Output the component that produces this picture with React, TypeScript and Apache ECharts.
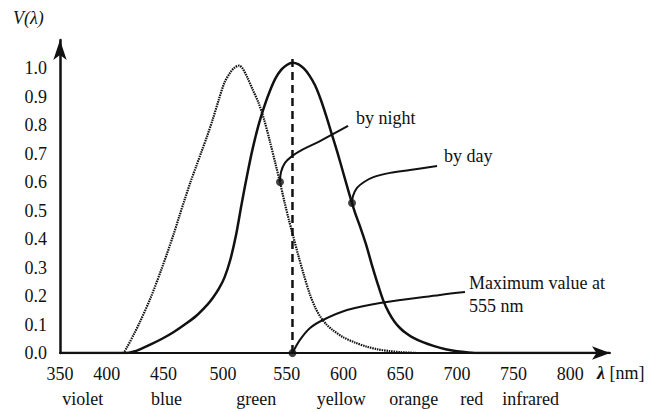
import React, { useEffect, useRef } from "react";
import * as echarts from "echarts";

// Relative luminous efficiency V(λ): [wavelength nm, value]
const nightCurve: [number, number][] = [
  [350, 0], [405, 0], [409, 0.02], [415, 0.065], [420, 0.105], [430, 0.195],
  [440, 0.3], [450, 0.415], [455, 0.478], [460, 0.54], [465, 0.6], [470, 0.655],
  [475, 0.71], [480, 0.765], [485, 0.825], [490, 0.89], [495, 0.95], [500, 0.985],
  [504, 1.003], [508, 1.01], [511, 1.0], [515, 0.97], [520, 0.925], [525, 0.88],
  [530, 0.82], [535, 0.745], [540, 0.665], [544, 0.6], [548, 0.53], [552, 0.465],
  [555, 0.42], [560, 0.345], [565, 0.275], [570, 0.21], [575, 0.16], [580, 0.125],
  [585, 0.1], [590, 0.082], [600, 0.055], [610, 0.037], [620, 0.023], [630, 0.013],
  [640, 0.007], [650, 0.003], [665, 0],
];

const dayCurve: [number, number][] = [
  [350, 0], [408, 0], [415, 0.005], [420, 0.012], [430, 0.03], [440, 0.05],
  [450, 0.073], [460, 0.1], [470, 0.13], [480, 0.17], [485, 0.195], [490, 0.225],
  [495, 0.265], [500, 0.325], [505, 0.41], [510, 0.52], [515, 0.625], [520, 0.72],
  [525, 0.8], [530, 0.865], [535, 0.92], [540, 0.965], [545, 0.995], [550, 1.012],
  [555, 1.02], [560, 1.015], [565, 1.0], [570, 0.975], [575, 0.94], [580, 0.89],
  [585, 0.83], [590, 0.765], [595, 0.7], [600, 0.63], [605, 0.56], [610, 0.495],
  [615, 0.44], [620, 0.38], [625, 0.31], [630, 0.245], [635, 0.185], [640, 0.142],
  [645, 0.11], [650, 0.087], [655, 0.07], [660, 0.057], [670, 0.038], [680, 0.024],
  [690, 0.013], [700, 0.006], [710, 0.002], [720, 0], [835, 0],
];

const peakNm = 555;
const peakLineTop = 1.05;

// Annotation leaders, from the marked point out to the caption
const nightLeader: [number, number][] = [
  [544.0, 0.601], [544.9, 0.636], [548.4, 0.668], [554.6, 0.692], [563.4, 0.714],
  [579.3, 0.745], [604.0, 0.798],
];
const dayLeader: [number, number][] = [
  [607.5, 0.527], [608.4, 0.552], [611.9, 0.58], [618.1, 0.601], [626.9, 0.619],
  [641.0, 0.633], [658.6, 0.643], [682.5, 0.657],
];
const peakLeader: [number, number][] = [
  [555, 0], [561.6, 0.046], [570.5, 0.088], [581.9, 0.116], [603.1, 0.151],
  [632.2, 0.176], [685.1, 0.204], [707.1, 0.214],
];

const nightCaption = "by night";
const dayCaption = "by day";
const peakCaption = "Maximum value at\n555 nm";

const colorNames = ["violet", "blue", "green", "yellow", "orange", "red", "infrared"];
const colorCenters = [370, 444, 523, 598, 662, 713, 765];

const SERIF = "'Liberation Serif', 'DejaVu Serif', serif";
const INK = "#111";

export default function App() {
  const ref = useRef<HTMLDivElement>(null);

  useEffect(() => {
    document.body.style.margin = "0";
    const chart = echarts.init(ref.current!, null, { renderer: "svg" });

    const text = { fontFamily: SERIF, fontSize: 18, color: INK };

    const leader = (data: [number, number][], caption: string, offset: number[]) => ({
      type: "line",
      data,
      smooth: 0.35,
      symbol: "none",
      lineStyle: { color: INK, width: 2 },
      endLabel: {
        show: true,
        formatter: caption,
        distance: 4,
        offset,
        align: "left",
        verticalAlign: "middle",
        lineHeight: 23,
        ...text,
      },
      z: 4,
    });

    chart.setOption({
      animation: false,
      grid: { left: 60, right: 43, top: 40, bottom: 59, outerBoundsMode: "none" },
      xAxis: [
        {
          type: "value",
          min: 350,
          max: 835,
          interval: 50,
          axisLine: {
            show: true,
            onZero: false,
            symbol: ["none", "arrow"],
            symbolSize: [10, 18],
            lineStyle: { color: INK, width: 2 },
          },
          axisTick: { show: false },
          splitLine: { show: false },
          axisLabel: {
            margin: 12,
            ...text,
            formatter: (v: number) => {
              if (v > 800) return "";
              if (v === 400 || v === 450) return `{l|${v}}`;
              if (v === 500) return `{m|${v}}`;
              return `${v}`;
            },
            rich: {
              l: { ...text, padding: [0, 20, 0, 0] },
              m: { ...text, padding: [0, 14, 0, 0] },
            },
          },
        },
        {
          type: "value",
          gridIndex: 0,
          position: "bottom",
          offset: 25,
          min: 350,
          max: 835,
          axisLine: { show: false },
          axisTick: { show: false },
          splitLine: { show: false },
          axisLabel: {
            margin: 12,
            ...text,
            customValues: colorCenters,
            formatter: (v: number) => {
              const i = colorCenters.indexOf(v);
              return i >= 0 ? colorNames[i] : "";
            },
          },
        },
      ],
      yAxis: {
        type: "value",
        min: 0,
        max: 1.1,
        interval: 0.1,
        axisLine: {
          show: true,
          symbol: ["none", "arrow"],
          symbolSize: [10, 20],
          lineStyle: { color: INK, width: 2.5 },
        },
        axisTick: { show: false },
        splitLine: { show: false },
        axisLabel: {
          margin: 13,
          ...text,
          formatter: (v: number) => (v > 1.0001 ? "" : v.toFixed(1)),
        },
      },
      series: [
        {
          type: "line",
          name: "night",
          data: nightCurve,
          smooth: 0.3,
          symbol: "none",
          lineStyle: { color: "#111", width: 2.2, type: [1.5, 0.9] },
          z: 3,
        },
        {
          type: "line",
          name: "day",
          data: dayCurve,
          smooth: 0.3,
          symbol: "none",
          lineStyle: { color: INK, width: 2.5 },
          z: 3,
        },
        {
          type: "line",
          name: "peak",
          data: [
            [peakNm, 0],
            [peakNm, peakLineTop],
          ],
          symbol: "none",
          lineStyle: { color: INK, width: 2.5, type: [8, 5] },
          z: 2,
        },
        leader(nightLeader, nightCaption, [4, -8]),
        leader(dayLeader, dayCaption, [3, -10]),
        leader(peakLeader, peakCaption, [0, 2]),
        {
          type: "scatter",
          data: [nightLeader[0], dayLeader[0], peakLeader[0]],
          symbol: "circle",
          symbolSize: 8,
          itemStyle: { color: INK },
          z: 5,
        },
      ],
      graphic: [
        {
          type: "text",
          left: 13,
          top: 9,
          style: { text: "V(λ)", ...text, fill: INK, fontStyle: "italic" },
        },
        {
          type: "text",
          left: 597,
          top: 364,
          style: {
            text: "{i|λ} [nm]",
            ...text,
            fill: INK,
            rich: { i: { ...text, fill: INK, fontStyle: "italic", fontWeight: "bold" } },
          },
        },
      ],
    });

    return () => chart.dispose();
  }, []);

  return (
    <div
      ref={ref}
      style={{ position: "fixed", left: 0, top: 0, width: 653, height: 412, background: "#fff" }}
    />
  );
}
